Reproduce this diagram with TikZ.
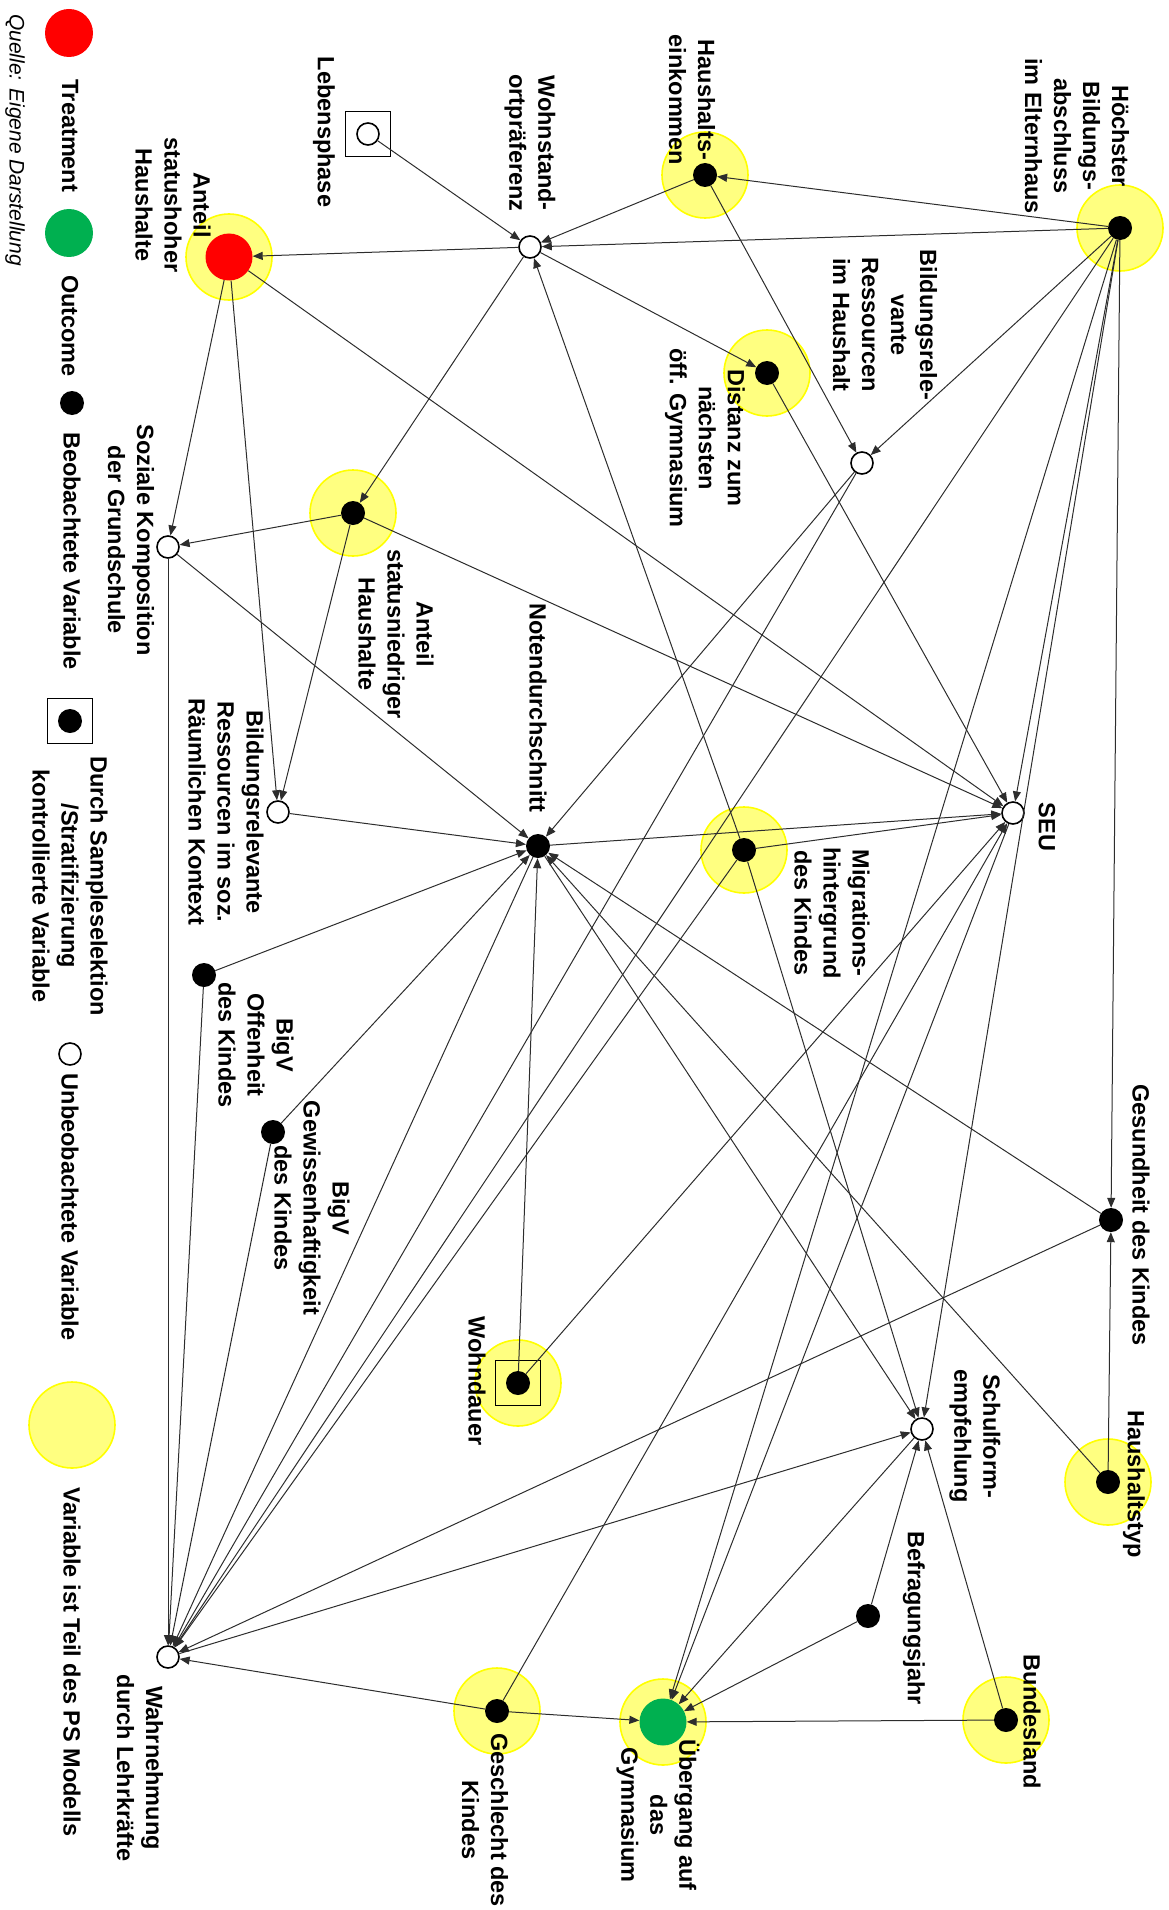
\documentclass[tikz,border=0pt]{standalone}
\usepackage{fontspec}
\setmainfont{Liberation Sans}
\usetikzlibrary{arrows.meta}
\definecolor{treatred}{RGB}{255,0,0}
\definecolor{outgreen}{RGB}{0,176,80}
\definecolor{psring}{RGB}{255,255,0}
\definecolor{psfill}{RGB}{255,255,128}
\definecolor{arcgray}{RGB}{45,45,45}

\begin{document}
\begin{tikzpicture}[x=1pt, y=-1pt, >={Triangle[length=10pt,width=8pt]},
    obs/.style={circle, fill=black, minimum size=24pt, inner sep=0pt},
    unobs/.style={circle, draw=black, line width=1.6pt, fill=white, minimum size=22pt, inner sep=0pt},
    halo/.style={circle, fill=psfill, draw=psring, line width=1.6pt, minimum size=86pt, inner sep=0pt},
    ctrlbox/.style={draw=black, line width=1.6pt, minimum size=45pt, inner sep=0pt},
    bigdot/.style={circle, minimum size=47pt, inner sep=0pt},
    lbl/.style={rotate=-90, align=center, inner sep=0pt, font=\fontsize{23.5}{29}\selectfont\bfseries},
    arc/.style={->, draw=arcgray, line width=1pt}]
        \useasboundingbox (0,0) rectangle (1168,1910);

        % Variables in the PS model (yellow rings)
        \foreach \n/\x/\y in {hoechst/1120/228, einkommen/705/175, statushoch/229/257, distanz/767/373,
            statusnied/353/513, migr/744/850, wohndauer/518/1383, hhtyp/1108/1482,
            bundesl/1006/1720, uebergang/663/1722, geschl/497/1711}
            \node[halo] (\n-ps) at (\x,\y) {};

        % Variables
        \node[obs] (hoechst) at (1120,228) {};
        \node[obs] (einkommen) at (705,175) {};
        \node[unobs] (wohnpraef) at (530,247) {};
        \node[ctrlbox] (lebensph-box) at (368,134) {};
        \node[unobs] (lebensph) at (368,134) {};
        \node[bigdot, fill=treatred] (statushoch) at (229,257) {};
        \node[obs] (distanz) at (767,373) {};
        \node[unobs] (ressHH) at (862,463) {};
        \node[obs] (statusnied) at (353,513) {};
        \node[unobs] (sozkomp) at (168,547) {};
        \node[unobs] (ressRaum) at (278,812) {};
        \node[obs] (noten) at (538,846) {};
        \node[unobs] (seu) at (1013,813) {};
        \node[obs] (migr) at (744,850) {};
        \node[obs] (offen) at (204,975) {};
        \node[obs] (gewiss) at (273,1132) {};
        \node[obs] (gesund) at (1111,1220) {};
        \node[ctrlbox] (wohndauer-box) at (518,1383) {};
        \node[obs] (wohndauer) at (518,1383) {};
        \node[unobs] (empf) at (922,1429) {};
        \node[obs] (hhtyp) at (1108,1482) {};
        \node[obs] (befrjahr) at (868,1616) {};
        \node[unobs] (wahrn) at (168,1657) {};
        \node[obs] (geschl) at (497,1711) {};
        \node[bigdot, fill=outgreen] (uebergang) at (663,1722) {};
        \node[obs] (bundesl) at (1006,1720) {};

        % Paths
        \foreach \t in {einkommen,wohnpraef,ressHH,seu,empf,gesund,uebergang,wahrn}
            \draw[arc] (hoechst) -- (\t);
        \foreach \t in {wohnpraef,ressHH}
            \draw[arc] (einkommen) -- (\t);
        \draw[arc] (lebensph) -- (wohnpraef);
        \foreach \t in {statushoch,distanz,statusnied}
            \draw[arc] (wohnpraef) -- (\t);
        \foreach \t in {sozkomp,ressRaum,seu}
            \draw[arc] (statushoch) -- (\t);
        \foreach \t in {sozkomp,ressRaum,seu}
            \draw[arc] (statusnied) -- (\t);
        \draw[arc] (distanz) -- (seu);
        \foreach \t in {wohnpraef,empf,seu,wahrn}
            \draw[arc] (migr) -- (\t);
        \foreach \t in {noten,wahrn}
            \draw[arc] (ressHH) -- (\t);
        \foreach \t in {noten,wahrn}
            \draw[arc] (sozkomp) -- (\t);
        \draw[arc] (ressRaum) -- (noten);
        \foreach \t in {noten,wahrn}
            \draw[arc] (offen) -- (\t);
        \foreach \t in {noten,wahrn}
            \draw[arc] (gewiss) -- (\t);
        \foreach \t in {seu,empf,wahrn}
            \draw[arc] (noten) -- (\t);
        \foreach \t in {noten,seu}
            \draw[arc] (wohndauer) -- (\t);
        \foreach \t in {noten,wahrn}
            \draw[arc] (gesund) -- (\t);
        \foreach \t in {gesund,noten}
            \draw[arc] (hhtyp) -- (\t);
        \foreach \t in {seu,uebergang,wahrn}
            \draw[arc] (geschl) -- (\t);
        \draw[arc] (wahrn) -- (empf);
        \foreach \t in {empf,uebergang}
            \draw[arc] (befrjahr) -- (\t);
        \foreach \t in {empf,uebergang}
            \draw[arc] (bundesl) -- (\t);
        \draw[arc] (empf) -- (uebergang);
        \draw[arc] (seu) -- (uebergang);

        % Labels
        \node[lbl] (hoechst-l) at (1077,136) {Höchster\\Bildungs-\\abschluss\\im Elternhaus};
        \node[lbl] (einkommen-l) at (692,100) {Haushalts-\\einkommen};
        \node[lbl] (wohnpraef-l) at (530,143) {Wohnstand-\\ortpräferenz};
        \node[lbl] (lebensph-l) at (324,132) {Lebensphase};
        \node[lbl] (statushoch-l) at (173,205) {Anteil\\statushoher\\Haushalte};
        \node[lbl] (distanz-l) at (705,438) {Distanz zum\\nächsten\\öff. Gymnasium};
        \node[lbl] (ressHH-l) at (885,325) {Bildungsrele-\\vante\\Ressourcen\\im Haushalt};
        \node[lbl] (statusnied-l) at (396,634) {Anteil\\statusniedriger\\Haushalte};
        \node[lbl] (sozkomp-l) at (131,540) {Soziale Komposition\\der Grundschule};
        \node[lbl] (ressRaum-l) at (226,812) {Bildungsrelevante\\Ressourcen im soz.\\Räumlichen Kontext};
        \node[lbl] (noten-l) at (538,708) {Notendurchschnitt};
        \node[lbl] (seu-l) at (1047,827) {SEU};
        \node[lbl] (migr-l) at (832,913) {Migrations-\\hintergrund\\des Kindes};
        \node[lbl] (offen-l) at (256,1045) {BigV\\Offenheit\\des Kindes};
        \node[lbl] (gewiss-l) at (312,1208) {BigV\\Gewissenhaftigkeit\\des Kindes};
        \node[lbl] (gesund-l) at (1141,1215) {Gesundheit des Kindes};
        \node[lbl] (wohndauer-l) at (477,1381) {Wohndauer};
        \node[lbl] (empf-l) at (975,1436) {Schulform-\\empfehlung};
        \node[lbl] (hhtyp-l) at (1134,1484) {Haushaltstyp};
        \node[lbl] (befrjahr-l) at (914,1618) {Befragungsjahr};
        \node[lbl] (bundesl-l) at (1032,1722) {Bundesland};
        \node[lbl] (uebergang-l) at (658,1815) {Übergang auf\\das\\Gymnasium};
        \node[lbl] (geschl-l) at (485,1820) {Geschlecht des\\Kindes};
        \node[lbl] (wahrn-l) at (140,1768) {Wahrnehmung\\durch Lehrkräfte};

        % Legend
        \node[bigdot, fill=treatred, minimum size=48pt] (leg-treat) at (69,33) {};
        \node[lbl] (leg-treat-l) at (70,136) {Treatment};
        \node[bigdot, fill=outgreen, minimum size=48pt] (leg-out) at (69,233) {};
        \node[lbl] (leg-out-l) at (70,326) {Outcome};
        \node[obs] (leg-obs) at (72,403) {};
        \node[lbl] (leg-obs-l) at (72,551) {Beobachtete Variable};
        \node[ctrlbox] (leg-ctrl-box) at (70,721) {};
        \node[obs] (leg-ctrl) at (70,721) {};
        \node[lbl] (leg-ctrl-l) at (70,886) {Durch Sampleselektion\\/Stratifizierung\\kontrollierte Variable};
        \node[unobs] (leg-unobs) at (70,1054) {};
        \node[lbl] (leg-unobs-l) at (70,1207) {Unbeobachtete Variable};
        \node[halo] (leg-ps) at (72,1425) {};
        \node[lbl] (leg-ps-l) at (72,1662) {Variable ist Teil des PS Modells};
        \node[rotate=-90, inner sep=0pt, font=\fontsize{21}{25}\selectfont\itshape] (quelle) at (15,140) {Quelle: Eigene Darstellung};
    \end{tikzpicture}
\end{document}
